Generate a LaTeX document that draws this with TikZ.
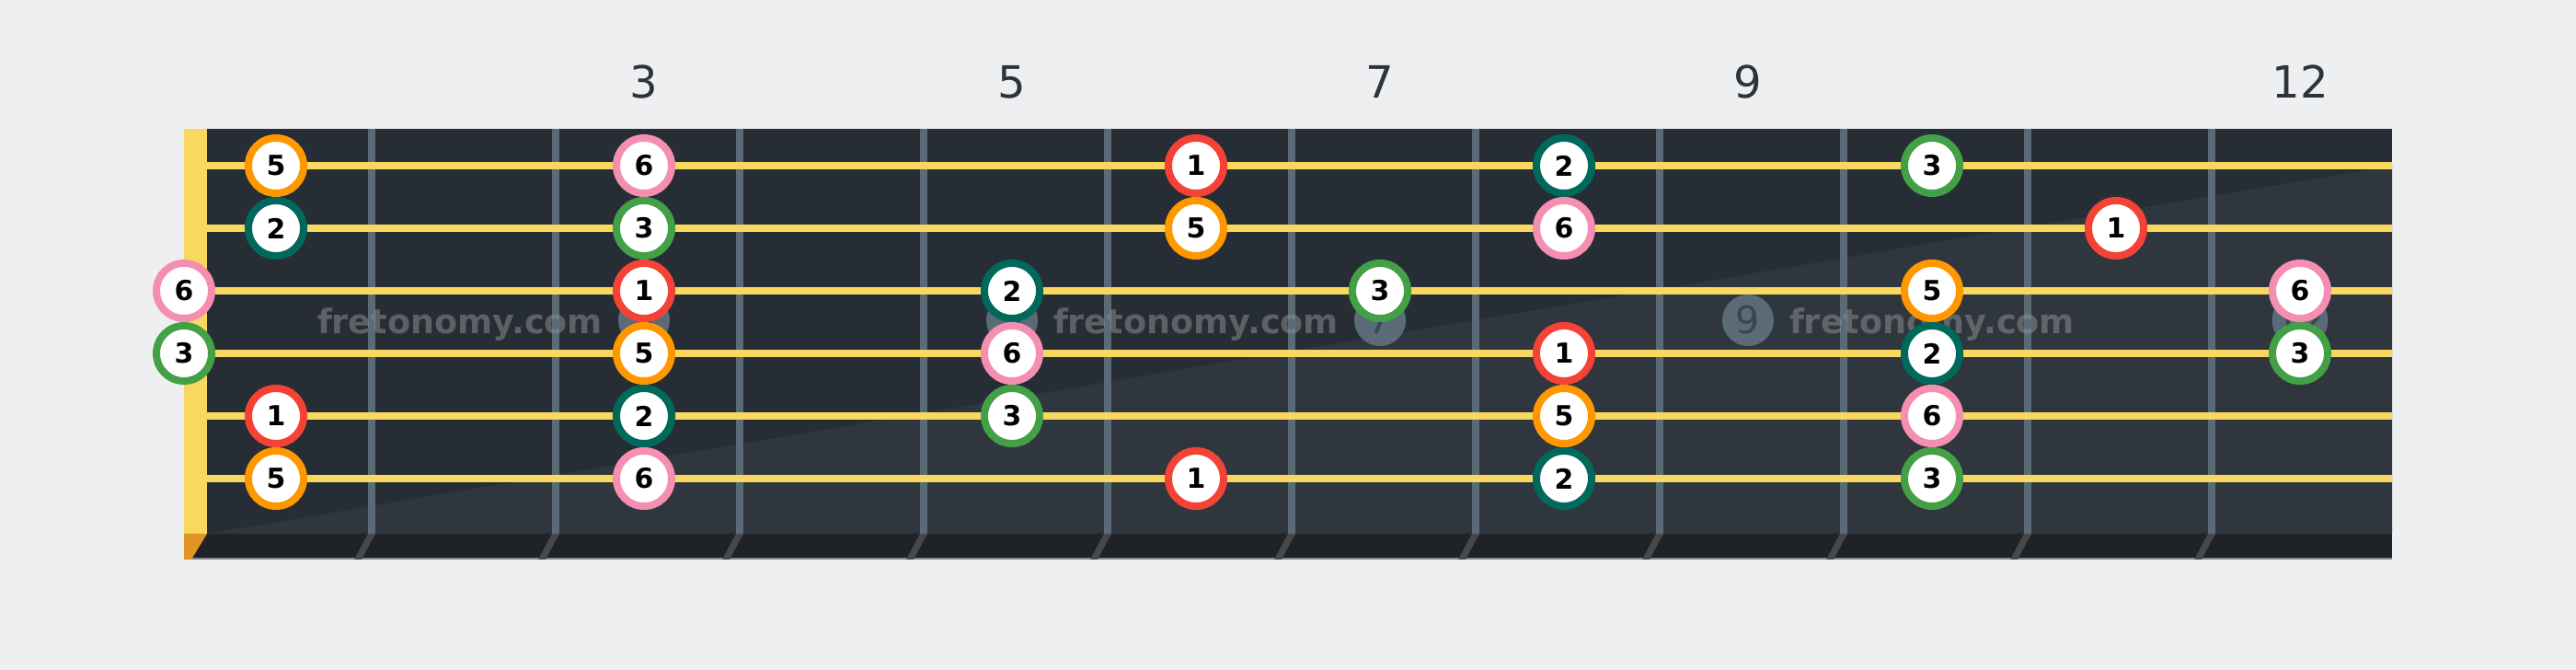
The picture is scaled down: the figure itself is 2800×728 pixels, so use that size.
\documentclass[tikz,border=0pt]{standalone}
\usepackage{fontspec}
\setmainfont{DejaVu Sans}
\definecolor{pagebg}{HTML}{EEEFF1}
\definecolor{boarddark}{HTML}{272D35}
\definecolor{boardlight}{HTML}{30363E}
\definecolor{boardfoot}{HTML}{1F2327}
\definecolor{fretgray}{HTML}{5A6A77}
\definecolor{stringyellow}{HTML}{F8D85F}
\definecolor{nutorange}{HTML}{E39426}
\definecolor{labelgray}{HTML}{2D333B}
\definecolor{inlaytext}{HTML}{3A4550}
\definecolor{rootred}{HTML}{F44336}
\definecolor{secondteal}{HTML}{00695C}
\definecolor{thirdgreen}{HTML}{43A047}
\definecolor{fifthorange}{HTML}{FF9800}
\definecolor{sixthpink}{HTML}{F48FB1}
\tikzset{every note/.style={ % Sets the properties for each scale note
            circle, draw,
            fill=white,
            line width=0.08cm,
            minimum size=0.6cm,
            inner sep=0pt,
            font=\bfseries\fontsize{8.5}{10}\selectfont},
        deg1/.style={every note, draw=rootred},
        deg2/.style={every note, draw=secondteal},
        deg3/.style={every note, draw=thirdgreen},
        deg5/.style={every note, draw=fifthorange},
        deg6/.style={every note, draw=sixthpink},
        fretwire/.style={draw=fretgray, line width=0.08cm},
        guitarstring/.style={draw=stringyellow, line width=0.08cm},
        inlay/.style={ % Position dots behind the strings
            circle, fill=fretgray, minimum size=0.56cm, inner sep=0pt,
            text=inlaytext, font=\fontsize{11.7}{12}\selectfont},
        fretlabel/.style={text=labelgray, inner sep=0pt, font=\fontsize{13.7}{15}\selectfont},
        watermark/.style={text=gray!85, text opacity=0.5, anchor=base,
            font=\bfseries\fontsize{10.4}{12}\selectfont}
        }

\begin{document}
\begin{tikzpicture}[x=0.01cm, y=-0.01cm] % One unit is one pixel of the picture
    \fill[pagebg] (0,0) rectangle (2800,728);
    \useasboundingbox (0,0) rectangle (2800,728);

    % fretboard
    \fill[boarddark] (200,140) rectangle (2600,580);
    \fill[boardlight] (225,580) -- (2600,180) -- (2600,580) -- cycle;
    \fill[boardfoot] (200,580) rectangle (2600,608);
    \draw[fretgray!80, line width=0.015cm] (200,607) -- (2600,607);
    \fill[stringyellow] (200,140) rectangle (225,580);
    \fill[nutorange] (200,580) -- (225,580) -- (208,608) -- (200,608) -- cycle;

    \draw[fretwire]
        (404,140) -- (404,580)  (604,140) -- (604,580)
        (804,140) -- (804,580)  (1004,140) -- (1004,580)
        (1204,140) -- (1204,580)  (1404,140) -- (1404,580)
        (1604,140) -- (1604,580)  (1804,140) -- (1804,580)
        (2004,140) -- (2004,580)  (2204,140) -- (2204,580)
        (2404,140) -- (2404,580);
    \fill[gray!40!boardfoot]
        (400,580) -- ++(8,0) -- ++(-15,28) -- ++(-8,0) -- cycle
        (600,580) -- ++(8,0) -- ++(-15,28) -- ++(-8,0) -- cycle
        (800,580) -- ++(8,0) -- ++(-15,28) -- ++(-8,0) -- cycle
        (1000,580) -- ++(8,0) -- ++(-15,28) -- ++(-8,0) -- cycle
        (1200,580) -- ++(8,0) -- ++(-15,28) -- ++(-8,0) -- cycle
        (1400,580) -- ++(8,0) -- ++(-15,28) -- ++(-8,0) -- cycle
        (1600,580) -- ++(8,0) -- ++(-15,28) -- ++(-8,0) -- cycle
        (1800,580) -- ++(8,0) -- ++(-15,28) -- ++(-8,0) -- cycle
        (2000,580) -- ++(8,0) -- ++(-15,28) -- ++(-8,0) -- cycle
        (2200,580) -- ++(8,0) -- ++(-15,28) -- ++(-8,0) -- cycle
        (2400,580) -- ++(8,0) -- ++(-15,28) -- ++(-8,0) -- cycle;

    % inlays and fret numbers
    \node[inlay] (dot3) at (700,348) {3};
    \node[inlay] (dot5) at (1100,348) {5};
    \node[inlay] (dot7) at (1500,348) {7};
    \node[inlay] (dot9) at (1900,348) {9};
    \node[inlay] (dot12) at (2500,348) {12};
    \node[fretlabel] (lbl3) at (700,89) {3};
    \node[fretlabel] (lbl5) at (1100,89) {5};
    \node[fretlabel] (lbl7) at (1500,89) {7};
    \node[fretlabel] (lbl9) at (1900,89) {9};
    \node[fretlabel] (lbl12) at (2500,89) {12};

    \node[watermark] (wm1) at (500,363) {fretonomy.com};
    \node[watermark] (wm2) at (1300,363) {fretonomy.com};
    \node[watermark] (wm3) at (2100,363) {fretonomy.com};

    % strings, high to low
    \draw[guitarstring]
        (225,180) -- (2600,180)  (225,248) -- (2600,248)
        (225,316) -- (2600,316)  (225,384) -- (2600,384)
        (225,452) -- (2600,452)  (225,520) -- (2600,520);

    % notes
    \node[deg5] (s1f1) at (300,180) {5};
    \node[deg6] (s1f3) at (700,180) {6};
    \node[deg1] (s1f6) at (1300,180) {1};
    \node[deg2] (s1f8) at (1700,180) {2};
    \node[deg3] (s1f10) at (2100,180) {3};

    \node[deg2] (s2f1) at (300,248) {2};
    \node[deg3] (s2f3) at (700,248) {3};
    \node[deg5] (s2f6) at (1300,248) {5};
    \node[deg6] (s2f8) at (1700,248) {6};
    \node[deg1] (s2f11) at (2300,248) {1};

    \node[deg6] (s3f0) at (200,316) {6};
    \node[deg1] (s3f3) at (700,316) {1};
    \node[deg2] (s3f5) at (1100,316) {2};
    \node[deg3] (s3f7) at (1500,316) {3};
    \node[deg5] (s3f10) at (2100,316) {5};
    \node[deg6] (s3f12) at (2500,316) {6};

    \node[deg3] (s4f0) at (200,384) {3};
    \node[deg5] (s4f3) at (700,384) {5};
    \node[deg6] (s4f5) at (1100,384) {6};
    \node[deg1] (s4f8) at (1700,384) {1};
    \node[deg2] (s4f10) at (2100,384) {2};
    \node[deg3] (s4f12) at (2500,384) {3};

    \node[deg1] (s5f1) at (300,452) {1};
    \node[deg2] (s5f3) at (700,452) {2};
    \node[deg3] (s5f5) at (1100,452) {3};
    \node[deg5] (s5f8) at (1700,452) {5};
    \node[deg6] (s5f10) at (2100,452) {6};

    \node[deg5] (s6f1) at (300,520) {5};
    \node[deg6] (s6f3) at (700,520) {6};
    \node[deg1] (s6f6) at (1300,520) {1};
    \node[deg2] (s6f8) at (1700,520) {2};
    \node[deg3] (s6f10) at (2100,520) {3};
\end{tikzpicture}
\end{document}
